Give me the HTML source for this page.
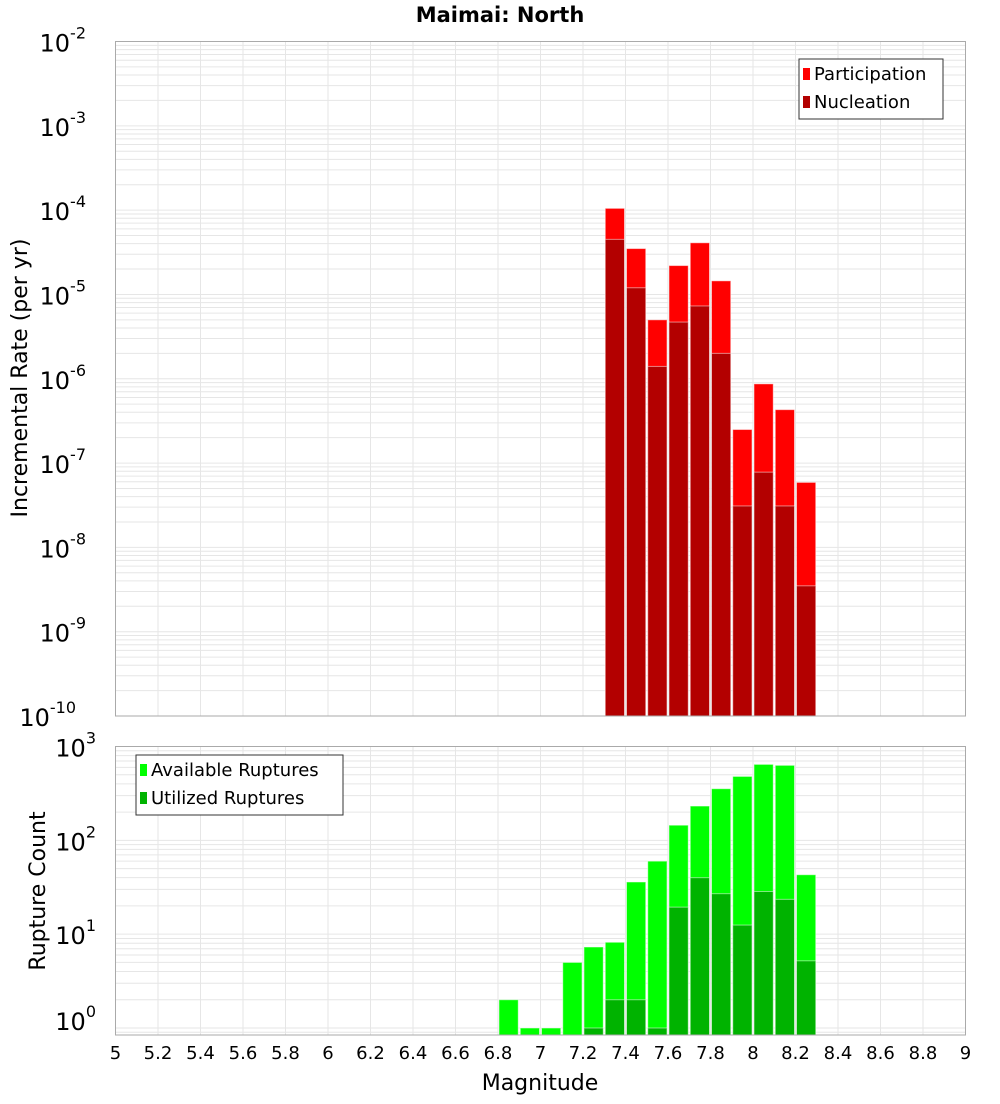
<!DOCTYPE html>
<html><head><meta charset="utf-8"><style>
body{margin:0;background:#fff;font-family:"DejaVu Sans","Liberation Sans",sans-serif}
svg text{font-family:"DejaVu Sans","Liberation Sans",sans-serif}
</style></head><body>
<svg id="c" width="1000" height="1100" xmlns="http://www.w3.org/2000/svg">
<text x="500" y="22" text-anchor="middle" font-size="21" font-weight="bold">Maimai: North</text>
<text transform="translate(27,378) rotate(-90)" text-anchor="middle" font-size="22">Incremental Rate (per yr)</text>
<text transform="translate(45,891) rotate(-90)" text-anchor="middle" font-size="22">Rupture Count</text>
<text x="540" y="1090" text-anchor="middle" font-size="22">Magnitude</text>
<g id="g"></g>
</svg>
<script>
const rateMags=[7.35,7.45,7.55,7.65,7.75,7.85,7.95,8.05,8.15,8.25];
const participation=[1.05e-4,3.5e-5,5.0e-6,2.2e-5,4.1e-5,1.45e-5,2.5e-7,8.7e-7,4.3e-7,5.9e-8];
const nucleation=[4.5e-5,1.2e-5,1.4e-6,4.7e-6,7.3e-6,2.0e-6,3.1e-8,7.8e-8,3.1e-8,3.5e-9];
const countMags=[6.85,6.95,7.05,7.15,7.25,7.35,7.45,7.55,7.65,7.75,7.85,7.95,8.05,8.15,8.25];
const available=[2,1,1,5,7.3,8.2,36,60,145,232,355,480,645,630,43];
const utilized=[0,0,0,0,1,2,2,1,19.4,40,27,12.5,28.5,23.5,5.2];
const xTicks=[5,5.2,5.4,5.6,5.8,6,6.2,6.4,6.6,6.8,7,7.2,7.4,7.6,7.8,8,8.2,8.4,8.6,8.8,9];
const topExps=[-2,-3,-4,-5,-6,-7,-8,-9,-10];
const botExps=[0,1,2,3];

const NS='http://www.w3.org/2000/svg';
const g=document.getElementById('g');
function el(t,a,p){const e=document.createElementNS(NS,t);for(const k in a)e.setAttribute(k,a[k]);(p||g).appendChild(e);return e;}
const L=115.5,R=965.5;
const X=v=>L+(v-5)/4*(R-L);
const T0=41.5,T1=716;
const YT=v=>T0+(-2-Math.log10(v))*(T1-T0)/8;
const B0=746.5,B1=1035;
const YB=v=>1028-Math.log10(v)*(1028-B0)/3;

function panel(top,bot,yf,lo,hi,name){
  const bg=el('rect',{x:L,y:top,width:R-L,height:bot-top,fill:'#fff'});
  
  
  for(let e=lo;e<=hi;e++)for(let m=1;m<10;m++){const y=yf(m*Math.pow(10,e));if(y>=top&&y<=bot){const l=el('line',{x1:L,x2:R,y1:y,y2:y,stroke:'#e6e6e6','stroke-width':1});}}
  xTicks.forEach(t=>{const x=X(t);const l=el('line',{x1:x,x2:x,y1:top,y2:bot,stroke:'#e6e6e6','stroke-width':1});});
}
panel(T0,T1,YT,-10,-3,'top');
panel(B0,B1,YB,-1,2,'bottom');

function bar(m,v,yf,base,fill,name){
  if(!v)return;const x0=X(m-0.05)+1,x1=X(m+0.05)-1;const y=yf(v);
  const r=el('rect',{x:x0,y:y,width:x1-x0,height:base-y,fill:fill,stroke:'#fff','stroke-opacity':0.5,'stroke-width':1});
  
  
}
rateMags.forEach((m,i)=>bar(m,participation[i],YT,T1,'#ff0000','participation-bar'));
rateMags.forEach((m,i)=>bar(m,nucleation[i],YT,T1,'#b30000','nucleation-bar'));
countMags.forEach((m,i)=>bar(m,available[i],YB,B1,'#00ff00','available-bar'));
countMags.forEach((m,i)=>bar(m,utilized[i],YB,B1,'#00b300','utilized-bar'));

[[T0,T1],[B0,B1]].forEach(([a,b])=>{const r=el('rect',{x:L,y:a,width:R-L,height:b-a,fill:'none',stroke:'#aaa','stroke-width':1});});

function expLabel(e,y,name){
  const t=el('text',{x:106,y:y+10,'text-anchor':'end','font-size':24});
  
  
  t.appendChild(document.createTextNode('10'));
  const s=el('tspan',{dy:-13,'font-size':16},t);s.textContent=String(e);
  // shift so superscript ends near axis
  t.setAttribute('x',106-(String(e).length*10));
  t.setAttribute('text-anchor','end');
}
topExps.forEach(e=>expLabel(e,YT(Math.pow(10,e)),'top-y-tick-label'));
botExps.forEach(e=>expLabel(e,Math.max(YB(Math.pow(10,e)),B0)- (e===0?8:0),'bottom-y-tick-label'));
xTicks.forEach(t=>{const x=el('text',{x:X(t),y:1059,'text-anchor':'middle','font-size':18});x.textContent=String(t);});

function legend(x,y,w,items,name){
  const r=el('rect',{x:x,y:y,width:w,height:items.length*28+4,fill:'#fff',stroke:'#333','stroke-width':1});
  
  
  items.forEach((it,i)=>{
    const s=el('rect',{x:x+4,y:y+9+i*28,width:7,height:12,fill:it[1]});
    
    
    const t=el('text',{x:x+15,y:y+21+i*28,'font-size':18});
    
    
    t.textContent=it[0];
  });
}
legend(799,59,144,[['Participation','#ff0000'],['Nucleation','#b30000']],'top-legend');
legend(136,755,207,[['Available Ruptures','#00ff00'],['Utilized Ruptures','#00b300']],'bottom-legend');
</script>
</body></html>
